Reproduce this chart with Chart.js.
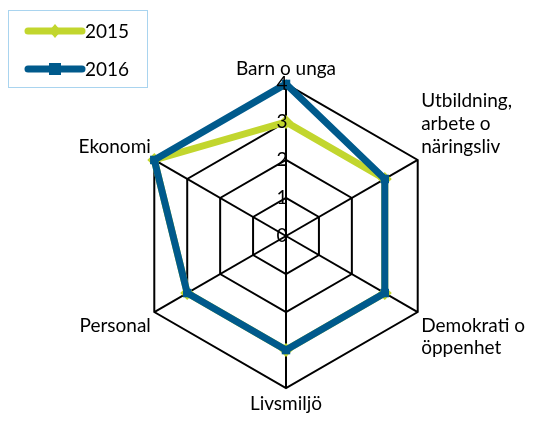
<!DOCTYPE html>
<html>
<head>
<meta charset="utf-8">
<script src="https://cdn.jsdelivr.net/npm/chart.js@4"></script>
<style>
  html, body { margin: 0; padding: 0; background: #fff; }
  #wrap { width: 543px; height: 424px; }
</style>
</head>
<body>
<div id="wrap"><canvas id="myChart"></canvas></div>
<script>
'use strict';

// categories round the radar, starting at the top, going clockwise
let categories = [
  'Barn o unga',
  ['Utbildning,', 'arbete o', 'näringsliv'],
  ['Demokrati o', 'öppenhet'],
  'Livsmiljö',
  'Personal',
  'Ekonomi'
];
let values2015 = [3, 3, 3, 3, 3, 4];
let values2016 = [4, 3, 3, 3, 3, 4];
let seriesNames = ['2015', '2016'];
let tickValues = [0, 1, 2, 3, 4];

let green = '#c2d62e';
let blue = '#005a8c';
let fontName = "'Lato', 'Open Sans', sans-serif";
let fontSize = 19;

// legend in a box at the top left, long line with a marker in the middle
const boxLegend = {
  id: 'boxLegend',
  afterDraw(chart) {
    let ctx = chart.ctx;
    ctx.save();
    ctx.strokeStyle = '#a9d4ef';
    ctx.lineWidth = 1;
    ctx.strokeRect(8.5, 10.5, 139, 77);
    let rows = [31, 69];
    chart.data.datasets.forEach(function (ds, i) {
      let y = rows[i];
      ctx.strokeStyle = ds.borderColor;
      ctx.lineWidth = 7;
      ctx.lineCap = 'round';
      ctx.beginPath();
      ctx.moveTo(28, y);
      ctx.lineTo(82, y);
      ctx.stroke();
      ctx.fillStyle = ds.borderColor;
      if (i === 0) {
        ctx.beginPath();
        ctx.moveTo(55, y - 7);
        ctx.lineTo(61, y);
        ctx.lineTo(55, y + 7);
        ctx.lineTo(49, y);
        ctx.closePath();
        ctx.fill();
      } else {
        ctx.fillRect(49, y - 6, 12, 12);
      }
      ctx.fillStyle = '#000';
      ctx.font = fontSize + 'px ' + fontName;
      ctx.textBaseline = 'middle';
      ctx.fillText(ds.label, 85, y + 1);
    });
    ctx.restore();
  }
};

// chart.js skips the 0 tick on radar, so all tick labels are drawn here
const tickLabels = {
  id: 'tickLabels',
  afterDatasetsDraw(chart) {
    let scale = chart.scales.r;
    let ctx = chart.ctx;
    ctx.save();
    ctx.fillStyle = '#000';
    ctx.font = fontSize + 'px ' + fontName;
    ctx.textAlign = 'center';
    ctx.textBaseline = 'middle';
    tickValues.forEach(function (v) {
      let d = scale.getDistanceFromCenterForValue(v);
      ctx.fillText(String(v), scale.xCenter - 4, scale.yCenter - d);
    });
    ctx.restore();
  }
};

const ctx = document.getElementById('myChart');

new Chart(ctx, {
  type: 'radar',
  data: {
    labels: categories,
    datasets: [
      {
        label: seriesNames[0],
        data: values2015,
        order: 1,
        borderColor: green,
        backgroundColor: 'rgba(0,0,0,0)',
        borderWidth: 7,
        pointStyle: 'rectRot',
        pointRadius: 7,
        pointBackgroundColor: green,
        pointBorderWidth: 0
      },
      {
        label: seriesNames[1],
        data: values2016,
        order: 0,
        borderColor: blue,
        backgroundColor: 'rgba(0,0,0,0)',
        borderWidth: 7,
        pointStyle: 'rect',
        pointRadius: 6,
        pointBackgroundColor: blue,
        pointBorderWidth: 0
      }
    ]
  },
  options: {
    responsive: true,
    maintainAspectRatio: false,
    animation: false,
    layout: { padding: { top: 50, bottom: -12, left: 66, right: -28 } },
    plugins: {
      legend: { display: false },
      tooltip: { enabled: false }
    },
    elements: { line: { tension: 0 } },
    scales: {
      r: {
        min: 0,
        max: 4,
        afterBuildTicks(scale) {
          scale.ticks = tickValues.map(function (v) { return { value: v }; });
        },
        angleLines: { color: '#000', lineWidth: 2 },
        grid: { color: '#000', lineWidth: 2 },
        ticks: { display: false },
        pointLabels: {
          color: '#000',
          font: { size: fontSize, family: fontName },
          padding: 4
        }
      }
    }
  },
  plugins: [boxLegend, tickLabels]
});
</script>
</body>
</html>
